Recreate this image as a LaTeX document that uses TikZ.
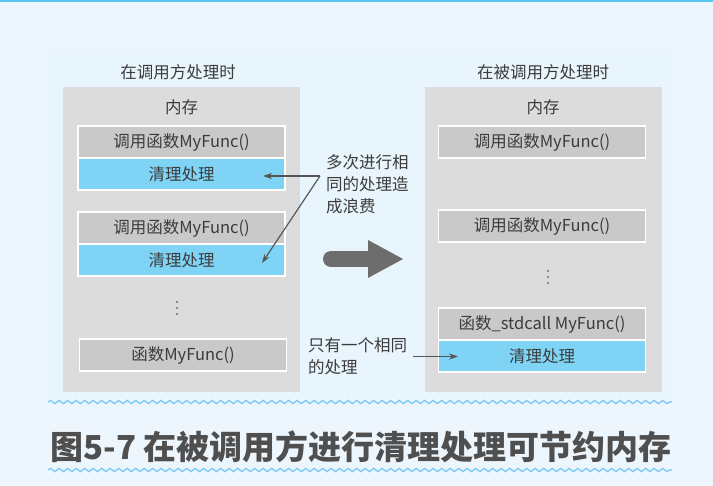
\documentclass[tikz,border=0pt]{standalone}
\usepackage{fontspec}
\setmainfont{Noto Sans CJK SC}
\usetikzlibrary{arrows.meta,decorations.pathmorphing}
\definecolor{bgouter}{HTML}{EEF6FD}
\definecolor{bginner}{HTML}{E8F5FC}
\definecolor{topline}{HTML}{5BC5F2}
\definecolor{panelgray}{HTML}{DCDCDC}
\definecolor{boxgray}{HTML}{C9C9C9}
\definecolor{boxblue}{HTML}{7FD3F5}
\definecolor{txt}{HTML}{3C3C3C}
\definecolor{conncol}{HTML}{555555}
\definecolor{bigarrowcol}{HTML}{6D6D6D}
\definecolor{wavecol}{HTML}{86CCF5}
\definecolor{titlecol}{HTML}{4F4F4F}
\begin{document}
\begin{tikzpicture}[x=1pt,y=-1pt,
  every node/.style={text=txt, font=\fontsize{16.5}{22}\selectfont},
  panel/.style={fill=panelgray, inner sep=0pt, minimum width=237pt, minimum height=305pt},
  membox/.style={draw=white, line width=1.2pt, inner sep=0pt, minimum width=207pt, minimum height=32pt},
  graybox/.style={membox, fill=boxgray},
  bluebox/.style={membox, fill=boxblue},
  conn/.style={draw=conncol, line width=1.2pt, -{Stealth[length=9pt,width=6pt]}},
  wave/.style={draw=wavecol, line width=1.5pt, decorate, decoration={snake, segment length=8.5pt, amplitude=1.6pt}}
]
\useasboundingbox (0,0) rectangle (713,486);
\fill[bgouter] (0,0) rectangle (713,486);
\fill[topline] (0,0) rectangle (713,2);
\fill[bginner] (48,50) rectangle (672,400);

% panels
\node[panel] (LP) at (181.5,239.5) {};
\node[panel] (RP) at (543,239.5) {};
\node (LT) at (178,72) {在调用方处理时};
\node (RT) at (543,72) {在被调用方处理时};
\node (LM) at (181.5,107) {内存};
\node (RM) at (543,107) {内存};

% left boxes
\node[graybox] (L1) at (181.5,142) {调用函数MyFunc()};
\node[bluebox] (L1b) at (181.5,174) {清理处理};
\node[graybox] (L2) at (181.5,228) {调用函数MyFunc()};
\node[bluebox] (L2b) at (181.5,260) {清理处理};
\fill[txt] (177,302) circle (0.9pt) (177,308) circle (0.9pt) (177,314) circle (0.9pt);
\node[graybox] (L3) at (183,355) {函数MyFunc()};

% right boxes
\node[graybox] (R1) at (542,142) {调用函数MyFunc()};
\node[graybox] (R2) at (542,226) {调用函数MyFunc()};
\fill[txt] (548,271) circle (0.9pt) (548,277) circle (0.9pt) (548,283) circle (0.9pt);
\node[graybox] (R3) at (542,324) {函数\_stdcall MyFunc()};
\node[bluebox] (R3b) at (542,356) {清理处理};

% middle notes
\node[anchor=north west, align=left, inner sep=0pt] (N1) at (326,154) {多次进行相\\同的处理造\\成浪费};
\node[anchor=north west, align=left, inner sep=0pt] (N2) at (308,337) {只有一个相同\\的处理};

\coordinate (J) at (320,176);
\coordinate (A1) at (263,176);
\coordinate (A2) at (262,263);
\draw[conn] (J) -- (A1);
\draw[conn] (J) -- (A2);
\coordinate (B0) at (413,356.5);
\coordinate (B1) at (458,356.5);
\draw[conn] (B0) -- (B1);

% big arrow
\draw[bigarrowcol, line width=16pt, line cap=round] (331,259) -- (370,259);
\fill[bigarrowcol] (368,240) -- (403,259) -- (368,278) -- cycle;

% waves
\draw[wave] (48,402) -- (672,402);
\draw[wave] (48,470) -- (672,470);

% title
\node[text=titlecol, font=\bfseries\fontsize{33}{33}\selectfont] (TT) at (361,447) {图5-7 在被调用方进行清理处理可节约内存};
\end{tikzpicture}
\end{document}
